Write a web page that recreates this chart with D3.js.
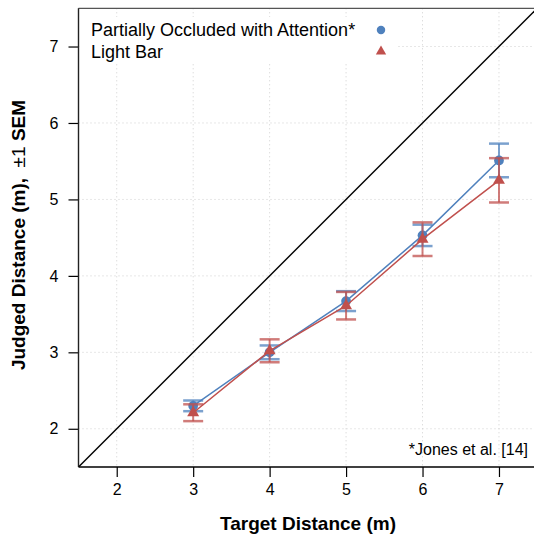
<!DOCTYPE html>
<html>
<head>
<meta charset="utf-8">
<script src="https://cdn.jsdelivr.net/npm/d3@7"></script>
<style>
  body { margin: 0; background: #fff; }
  svg { display: block; font-family: "Liberation Sans", Arial, sans-serif; }
  .tick text { font-size: 16px; fill: #000; }
</style>
</head>
<body>
<svg></svg>
<script>
// Data
var targets = [3, 4, 5, 6, 7];
var occludedMean = [2.30, 3.00, 3.67, 4.53, 5.51];
var occludedSem = [0.07, 0.09, 0.13, 0.14, 0.22];
var lightBarMean = [2.21, 3.02, 3.61, 4.48, 5.25];
var lightBarSem = [0.11, 0.15, 0.18, 0.22, 0.29];
var ticks = [2, 3, 4, 5, 6, 7];

var seriesNames = ['Partially Occluded with Attention*', 'Light Bar'];
var blue = '#4f81bd';
var red = '#c0504d';

var width = 534;
var height = 538;

var svg = d3.select('svg')
  .attr('width', width)
  .attr('height', height);

var x = d3.scaleLinear().domain([1.5, 7.5]).range([78.5, 537.2]);
var y = d3.scaleLinear().domain([1.5, 7.5]).range([467, 8.3]);

var pLeft = x(1.5), pRight = x(7.5), pTop = y(7.5), pBottom = y(1.5);

svg.append('clipPath').attr('id', 'plot')
  .append('rect')
  .attr('x', pLeft).attr('y', pTop)
  .attr('width', pRight - pLeft).attr('height', pBottom - pTop);

// grid
var grid = svg.append('g').attr('stroke', '#cfcfcf').attr('stroke-dasharray', '1,3');
grid.selectAll('.gx').data(ticks).enter().append('line')
  .attr('x1', function (d) { return x(d) }).attr('x2', function (d) { return x(d) })
  .attr('y1', pTop).attr('y2', pBottom);
grid.selectAll('.gy').data(ticks).enter().append('line')
  .attr('x1', pLeft).attr('x2', pRight)
  .attr('y1', function (d) { return y(d) }).attr('y2', function (d) { return y(d) });

// legend background hides the grid
svg.append('rect')
  .attr('x', pLeft + 1).attr('y', 17)
  .attr('width', 397 - pLeft).attr('height', 45)
  .attr('fill', '#fff');

// identity line
svg.append('line')
  .attr('clip-path', 'url(#plot)')
  .attr('x1', x(1.5)).attr('y1', y(1.5))
  .attr('x2', x(7.5)).attr('y2', y(7.5))
  .attr('stroke', '#000').attr('stroke-width', 1.4);

var series = [
  { name: seriesNames[0], mean: occludedMean, sem: occludedSem, color: blue, shape: d3.symbolCircle, size: 75 },
  { name: seriesNames[1], mean: lightBarMean, sem: lightBarSem, color: red, shape: d3.symbolTriangle, size: 62 }
];

var line = d3.line()
  .x(function (d) { return x(d.t) })
  .y(function (d) { return y(d.m) });

series.forEach(function (s) {
  var pts = targets.map(function (t, i) { return { t: t, m: s.mean[i], e: s.sem[i] } });
  var g = svg.append('g');

  g.append('path')
    .datum(pts)
    .attr('d', line)
    .attr('fill', 'none')
    .attr('stroke', s.color)
    .attr('stroke-width', 1.5);

  var eb = g.selectAll('.eb').data(pts).enter().append('g')
    .attr('stroke', s.color)
    .attr('stroke-opacity', 0.75)
    .attr('stroke-width', 2);
  eb.append('line')
    .attr('x1', function (d) { return x(d.t) }).attr('x2', function (d) { return x(d.t) })
    .attr('y1', function (d) { return y(d.m - d.e) }).attr('y2', function (d) { return y(d.m + d.e) });
  [-1, 1].forEach(function (k) {
    eb.append('line')
      .attr('stroke-width', 2.5)
      .attr('x1', function (d) { return x(d.t) - 10 }).attr('x2', function (d) { return x(d.t) + 10 })
      .attr('y1', function (d) { return y(d.m + k * d.e) }).attr('y2', function (d) { return y(d.m + k * d.e) });
  });

  g.selectAll('.pt').data(pts).enter().append('path')
    .attr('d', d3.symbol().type(s.shape).size(s.size))
    .attr('transform', function (d) { return 'translate(' + x(d.t) + ',' + y(d.m) + ')' })
    .attr('fill', s.color);
});

// axes
var xAxis = svg.append('g')
  .attr('transform', 'translate(0,' + pBottom + ')')
  .call(d3.axisBottom(x).tickValues(ticks).tickSize(10).tickPadding(7).tickFormat(d3.format('d')));
var yAxis = svg.append('g')
  .attr('transform', 'translate(' + pLeft + ',0)')
  .call(d3.axisLeft(y).tickValues(ticks).tickSize(10).tickPadding(10).tickFormat(d3.format('d')));
[xAxis, yAxis].forEach(function (a) {
  a.attr('font-size', null).attr('font-family', null);
  a.select('.domain').remove();
  a.selectAll('line').attr('stroke', '#000').attr('stroke-width', 1.2);
});

// frame
svg.append('line').attr('x1', pLeft).attr('x2', pRight).attr('y1', pTop).attr('y2', pTop)
  .attr('stroke', '#555').attr('stroke-width', 1.2);
svg.append('line').attr('x1', pLeft).attr('x2', pLeft).attr('y1', pTop).attr('y2', pBottom)
  .attr('stroke', '#222').attr('stroke-width', 1.4);
svg.append('line').attr('x1', pLeft).attr('x2', pRight).attr('y1', pBottom).attr('y2', pBottom)
  .attr('stroke', '#000').attr('stroke-width', 1.4);

// legend
var legend = svg.append('g');
series.forEach(function (s, i) {
  legend.append('text')
    .attr('x', 91).attr('y', 36 + i * 22)
    .attr('font-size', 18)
    .text(s.name);
  legend.append('path')
    .attr('d', d3.symbol().type(s.shape).size(s.size * 0.75))
    .attr('transform', 'translate(381,' + (30 + i * 21.5) + ')')
    .attr('fill', s.color);
});

// footnote
svg.append('text')
  .attr('x', 528).attr('y', 455)
  .attr('text-anchor', 'end')
  .attr('font-size', 16)
  .text('*Jones et al. [14]');

// axis titles
svg.append('text')
  .attr('x', 308).attr('y', 530)
  .attr('text-anchor', 'middle')
  .attr('font-size', 19)
  .attr('font-weight', 'bold')
  .text('Target Distance (m)');

var yl = svg.append('text')
  .attr('transform', 'translate(25,235) rotate(-90)')
  .attr('text-anchor', 'middle')
  .attr('font-size', 19)
  .attr('font-weight', 'bold')
  .attr('xml:space', 'preserve');
yl.append('tspan').text('Judged Distance (m),  ');
yl.append('tspan').attr('font-weight', 'normal').text('\u00b11');
yl.append('tspan').text(' SEM');
</script>
</body>
</html>
